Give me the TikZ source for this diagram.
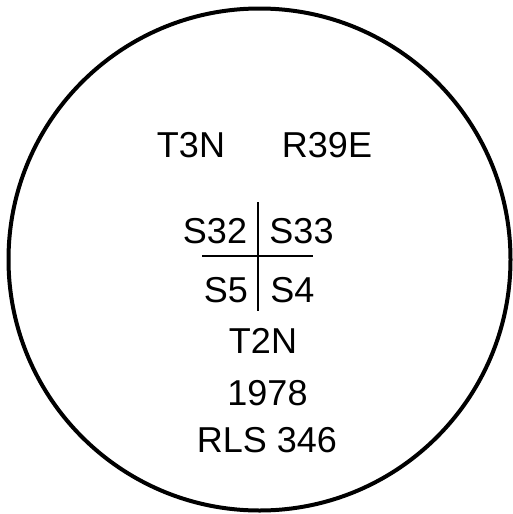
\documentclass[tikz,border=0pt]{standalone}
\usepackage{fontspec}
\setmainfont{Liberation Sans}
\begin{document}
\begin{tikzpicture}[x=1pt,y=-1pt,
  lbl/.style={anchor=base,inner sep=0pt,font=\fontsize{36}{36}\selectfont},
  rule/.style={line width=2pt}]
\useasboundingbox (0,0) rectangle (512,514);
\node[draw,circle,line width=4pt,minimum size=502pt,inner sep=0pt] (ring) at (259.5,259.5) {};
\node[lbl] (t3n) at (191,157) {T3N};
\node[lbl] (r39e) at (327,157) {R39E};
\node[lbl] (s32) at (215,243) {S32};
\node[lbl] (s33) at (301.5,243) {S33};
\node[lbl] (s5) at (226,302) {S5};
\node[lbl] (s4) at (292.5,302) {S4};
\node[lbl] (t2n) at (263,353) {T2N};
\node[lbl] (y1978) at (267.5,405) {1978};
\node[lbl] (rls) at (267,452) {RLS 346};
\coordinate (vt) at (258,202);
\coordinate (vb) at (258,311);
\coordinate (hl) at (202,256);
\coordinate (hr) at (313,256);
\draw[rule] (vt) -- (vb);
\draw[rule] (hl) -- (hr);
\end{tikzpicture}
\end{document}
